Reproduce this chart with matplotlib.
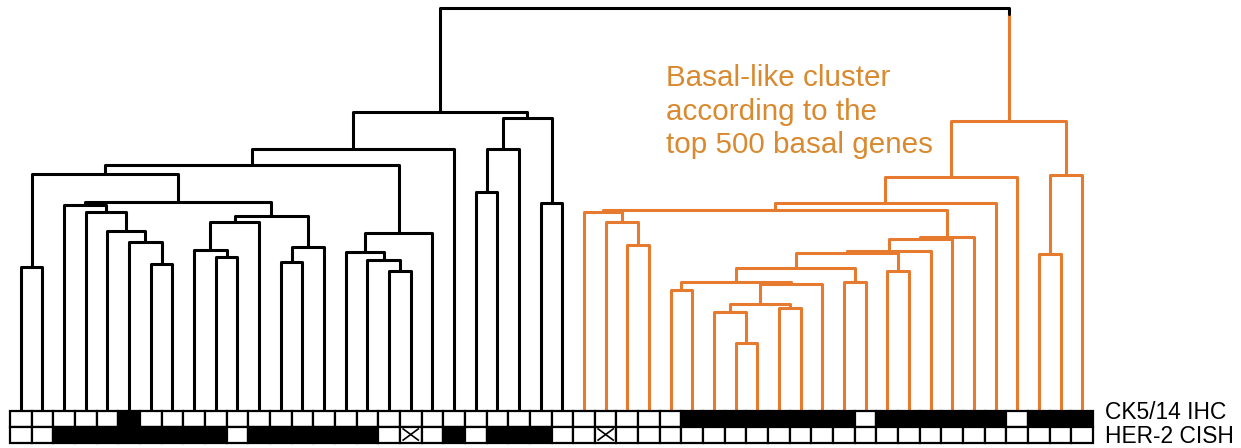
import numpy as np
import matplotlib.pyplot as plt
from matplotlib.patches import Rectangle

plt.rcParams['font.family'] = ['Liberation Sans', 'DejaVu Sans']

n_leaves = 50
basal_leaves = range(26, 50)

# scipy-style linkage: (left, right, height); ids >= n_leaves are earlier merges
merges = [
    (0, 1, 1.43), (6, 7, 1.46), (5, 51, 1.68), (4, 52, 1.79),
    (3, 53, 1.98), (2, 54, 2.05), (9, 10, 1.53), (8, 56, 1.60),
    (57, 11, 1.88), (12, 13, 1.48), (59, 14, 1.63), (58, 60, 1.94),
    (55, 61, 2.075), (50, 62, 2.36), (17, 18, 1.39), (16, 64, 1.50),
    (15, 65, 1.58), (66, 19, 1.77), (63, 67, 2.445), (68, 20, 2.61),
    (21, 22, 2.18), (70, 23, 2.61), (24, 25, 2.07), (71, 72, 2.92),
    (69, 73, 2.98),
    (28, 29, 1.65), (27, 75, 1.88), (26, 76, 1.98), (30, 31, 1.20),
    (33, 34, 0.67), (32, 79, 0.98), (35, 36, 1.02), (80, 81, 1.06),
    (82, 37, 1.26), (78, 83, 1.28), (38, 39, 1.28), (84, 85, 1.42),
    (40, 41, 1.39), (86, 87, 1.57), (88, 42, 1.59), (89, 43, 1.71),
    (90, 44, 1.73), (77, 91, 2.00), (92, 45, 2.07), (93, 46, 2.33),
    (47, 48, 1.56), (95, 49, 2.35), (94, 96, 2.89),
    (74, 97, 4.02),
]

# marker rows: 0 = negative, 1 = positive, 2 = not available
ck514_ihc = [0, 0, 0, 0, 0, 1, 0, 0, 0, 0,
             0, 0, 0, 0, 0, 0, 0, 0, 0, 0,
             0, 0, 0, 0, 0, 0, 0, 0, 0, 0,
             0, 1, 1, 1, 1, 1, 1, 1, 1, 0,
             1, 1, 1, 1, 1, 1, 0, 1, 1, 1]
her2_cish = [0, 0, 1, 1, 1, 1, 1, 1, 1, 1,
             0, 1, 1, 1, 1, 1, 1, 0, 2, 0,
             1, 0, 1, 1, 1, 0, 0, 2, 0, 0,
             0, 0, 0, 0, 0, 0, 0, 0, 0, 0,
             0, 0, 0, 0, 0, 0, 0, 0, 0, 0]
row_labels = ['CK5/14 IHC', 'HER-2 CISH']

note = 'Basal-like cluster\naccording to the\ntop 500 basal genes'

orange = '#e67a2e'
text_orange = '#d98a30'

W, H = 1241, 448
fig = plt.figure(figsize=(W / 100, H / 100), dpi=100)
ax = fig.add_axes([10 / W, 38 / H, 1083 / W, 410 / H])
ax.set_xlim(0, n_leaves)
ax.set_ylim(0, 4.10)
ax.axis('off')

# node positions
xpos = {i: i + 0.5 for i in range(n_leaves)}
hgt = {i: 0.0 for i in range(n_leaves)}
leaves = {i: {i} for i in range(n_leaves)}
for k, (a, b, h) in enumerate(merges):
    nid = n_leaves + k
    xpos[nid] = (xpos[a] + xpos[b]) / 2
    hgt[nid] = h
    leaves[nid] = leaves[a] | leaves[b]

line_kw = dict(lw=2.2, solid_joinstyle='round', solid_capstyle='round')
root = n_leaves + len(merges) - 1
for k, (a, b, h) in enumerate(merges):
    nid = n_leaves + k
    xa, xb = xpos[a], xpos[b]
    if nid == root:
        ax.plot([xb, xb], [hgt[b], h - 0.06], color=orange, **line_kw)
        ax.plot([xa, xa, xb, xb], [hgt[a], h, h, h - 0.06], color='black',
                zorder=3, **line_kw)
        continue
    c = orange if leaves[nid] <= set(basal_leaves) else 'black'
    ax.plot([xa, xa, xb, xb], [hgt[a], h, h, hgt[b]], color=c, **line_kw)

# baseline of the last line
ax.text(30.3, 2.57, note, color=text_orange, fontsize=21.3,
        va='baseline', ha='left', linespacing=1.24)

# marker boxes
bx = fig.add_axes([10 / W, 5.5 / H, 1083 / W, 32 / H])
bx.set_xlim(0, n_leaves)
bx.set_ylim(0, 2)
bx.axis('off')
for row_y, values in ((1, ck514_ihc), (0, her2_cish)):
    for i, v in enumerate(values):
        bx.add_patch(Rectangle((i, row_y), 1, 1, facecolor='black' if v == 1 else 'white',
                               edgecolor='black', lw=1.6, clip_on=False))
        if v == 2:
            bx.plot([i + 0.15, i + 0.85], [row_y + 0.15, row_y + 0.85], color='black', lw=1.2)
            bx.plot([i + 0.15, i + 0.85], [row_y + 0.85, row_y + 0.15], color='black', lw=1.2)

for yb, lab in zip((1.47, -0.03), row_labels):
    bx.text(50.55, yb, lab, fontsize=16.4, va='baseline', ha='left', clip_on=False)

fig.savefig('out.png', dpi=100)
